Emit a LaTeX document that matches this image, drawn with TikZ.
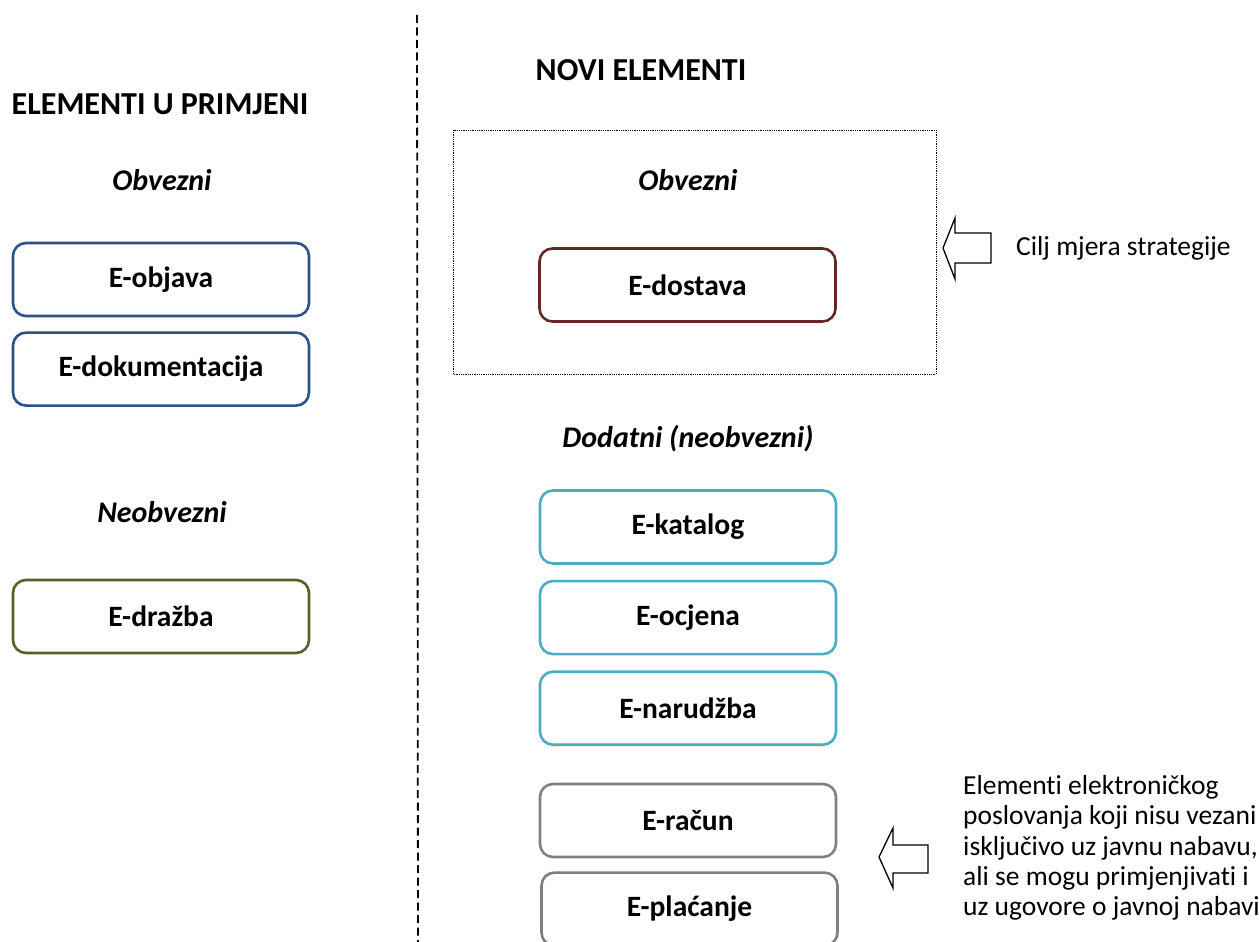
\documentclass[tikz,border=0pt]{standalone}
\usepackage{fontspec}
\setmainfont[Ligatures=NoCommon]{Carlito}
\usetikzlibrary{positioning}

\definecolor{boxblue}{HTML}{2A5288}
\definecolor{boxred}{HTML}{652628}
\definecolor{boxgreen}{HTML}{4F6228}
\definecolor{boxcyan}{HTML}{4BACC6}
\definecolor{boxgray}{HTML}{808080}

\tikzset{
  elbox/.style={draw, line width=2.6pt, rounded corners=13pt,
    minimum width=296pt, minimum height=73pt,
    font=\fontsize{29.5}{32}\selectfont\bfseries},
  heading/.style={font=\fontsize{32}{34}\selectfont\bfseries},
  subhead/.style={font=\fontsize{30}{32}\selectfont\bfseries\itshape},
  remark/.style={font=\fontsize{27.5}{30.2}\selectfont, align=left, anchor=west, inner sep=0pt},
  blockarrow/.style={draw, line width=1.3pt, fill=white}
}

\begin{document}
\begin{tikzpicture}[x=1pt, y=-1pt]
            \useasboundingbox (0,0) rectangle (1259,942);
            % dividing line
            \draw[line width=1.8pt, dash pattern=on 8pt off 4.5pt] (417,15) -- (418,945);
            % frame round the required new element
            \draw[line width=0.8pt, densely dotted] (453,130) rectangle (936,374);

            \node[heading] (titleold) at (160,104) {ELEMENTI U PRIMJENI};
            \node[heading] (titlenew) at (641,70) {NOVI ELEMENTI};

            \node[subhead] (obvold) at (162,180) {Obvezni};
            \node[elbox, draw=boxblue] (objava) at (161,279.5) {E-objava};
            \node[elbox, draw=boxblue, below = 14pt of objava] (dokum) {E-dokumentacija};
            \node[subhead] (neobv) at (162,512) {Neobvezni};
            \node[elbox, draw=boxgreen] (drazba) at (161,616.5) {E-dražba};

            \node[subhead] (obvnew) at (688,180) {Obvezni};
            \node[elbox, draw=boxred] (dostava) at (687.5,285) {E-dostava};

            \node[subhead] (dodatni) at (688,439) {Dodatni (neobvezni)};
            \node[elbox, draw=boxcyan] (katalog) at (688,527) {E-katalog};
            \node[elbox, draw=boxcyan, below = 15pt of katalog] (ocjena) {E-ocjena};
            \node[elbox, draw=boxcyan, below = 15pt of ocjena] (narudzba) {E-narudžba};
            \node[elbox, draw=boxgray] (racun) at (688,820.5) {E-račun};
            \node[elbox, draw=boxgray, below = 13pt of racun, xshift=1.5pt] (placanje) {E-plaćanje};

            % block arrows with their notes
            \draw[blockarrow] (943,248) -- (955,218) -- (955,233) -- (991,233)
              -- (991,263) -- (955,263) -- (955,279) -- cycle;
            \node[remark] (goal) at (1016,248) {Cilj mjera strategije};

            \draw[blockarrow] (879,857) -- (893,828) -- (893,845) -- (928,845)
              -- (928,873) -- (893,873) -- (893,888) -- cycle;
            \node[remark] (note) at (963,848) {Elementi elektroničkog\\poslovanja koji nisu vezani\\isključivo uz javnu nabavu,\\ali se mogu primjenjivati i\\uz ugovore o javnoj nabavi};
        \end{tikzpicture}
\end{document}
